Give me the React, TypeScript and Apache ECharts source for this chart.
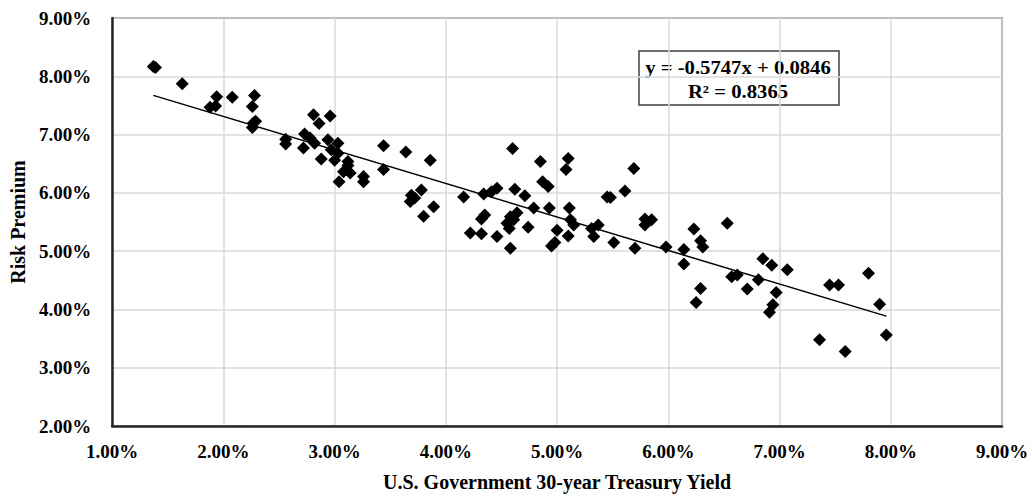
import React, { useEffect, useRef } from "react";
import * as echarts from "echarts";

// U.S. Government 30-year Treasury Yield (%)
const treasuryYield: number[] = [
  1.37, 1.39, 1.63, 1.94, 2.08, 1.88, 1.93, 2.28, 2.26, 2.27, 2.26, 2.29,
  2.56, 2.56, 2.72, 2.73, 2.81, 2.86, 2.96, 2.78, 2.82, 2.88, 2.94, 3.03,
  2.97, 3.0, 3.03, 3.12, 3.08, 3.14, 3.04, 3.12, 3.26, 3.26, 3.44, 3.64,
  3.86, 3.44, 3.78, 3.69, 3.72, 3.68, 3.89, 3.8, 4.16, 4.22, 4.6, 4.85,
  5.1, 5.08, 4.87, 4.92, 4.34, 4.41, 4.46, 4.62, 4.71, 4.79, 4.93, 5.11,
  5.45, 5.48, 5.61, 5.69, 4.35, 4.32, 4.58, 4.64, 4.55, 4.61, 4.57, 4.74,
  4.32, 4.46, 4.58, 5.0, 5.12, 5.15, 5.1, 4.95, 4.98, 5.31, 5.37, 5.33,
  5.51, 5.79, 5.85, 5.79, 5.7, 5.98, 6.14, 6.14, 6.23, 6.29, 6.31, 6.53,
  6.29, 6.25, 6.57, 6.62, 6.71, 6.81, 6.85, 6.93, 7.07, 6.97, 6.94, 6.91,
  7.45, 7.53, 7.8, 7.9, 7.36, 7.59, 7.96,
];

// Risk Premium (%)
const riskPremium: number[] = [
  8.17, 8.15, 7.87, 7.65, 7.64, 7.47, 7.49, 7.67, 7.48, 7.2, 7.12, 7.23,
  6.92, 6.84, 6.77, 7.01, 7.34, 7.19, 7.32, 6.94, 6.85, 6.58, 6.91, 6.85,
  6.74, 6.56, 6.68, 6.54, 6.36, 6.34, 6.19, 6.47, 6.28, 6.19, 6.81, 6.7,
  6.56, 6.4, 6.05, 5.96, 5.91, 5.85, 5.76, 5.6, 5.93, 5.31, 6.76, 6.54,
  6.59, 6.4, 6.19, 6.11, 5.98, 6.02, 6.08, 6.06, 5.95, 5.74, 5.74, 5.74,
  5.93, 5.92, 6.03, 6.42, 5.62, 5.55, 5.59, 5.66, 5.48, 5.54, 5.39, 5.41,
  5.3, 5.25, 5.05, 5.36, 5.54, 5.45, 5.26, 5.09, 5.15, 5.39, 5.45, 5.25,
  5.15, 5.55, 5.54, 5.45, 5.05, 5.07, 5.03, 4.78, 5.38, 5.18, 5.07, 5.48,
  4.36, 4.12, 4.56, 4.59, 4.35, 4.51, 4.87, 4.76, 4.68, 4.29, 4.08, 3.95,
  4.42, 4.42, 4.62, 4.09, 3.48, 3.28, 3.56,
];

// Linear trendline coefficients (fractions)
const slope = -0.5747;
const intercept = 0.0846;
const rSquared = 0.8365;

const xTicks = { min: 1, max: 9, interval: 1 };
const yTicks = { min: 2, max: 9, interval: 1 };

const FONT = '"Liberation Serif", "Times New Roman", serif';

export default function App() {
  const ref = useRef<HTMLDivElement>(null);

  useEffect(() => {
    if (!ref.current) return;
    const chart = echarts.init(ref.current, undefined, { renderer: "svg" });

    const points = treasuryYield.map((x, i) => [x, riskPremium[i]]);
    const xMin = Math.min(...treasuryYield);
    const xMax = Math.max(...treasuryYield);
    const trend = [xMin, xMax].map((x) => [x, (slope * (x / 100) + intercept) * 100]);

    const fmt = (v: number) => v.toFixed(2) + "%";
    const eq1 = `y = ${slope.toFixed(4)}x + ${intercept.toFixed(4)}`;
    const eq2 = `R² = ${rSquared.toFixed(4)}`;

    chart.setOption({
      animation: false,
      backgroundColor: "#ffffff",
      grid: {
        left: 112,
        right: 30,
        top: 18,
        bottom: 71,
        show: true,
        borderColor: "#404040",
        borderWidth: 1.5,
        backgroundColor: "transparent",
      },
      xAxis: {
        type: "value",
        min: xTicks.min,
        max: xTicks.max,
        interval: xTicks.interval,
        name: "U.S. Government 30-year Treasury Yield",
        nameLocation: "middle",
        nameGap: 46,
        nameTextStyle: { fontFamily: FONT, fontWeight: "bold", fontSize: 20, color: "#000" },
        axisLine: { show: true, onZero: false, lineStyle: { color: "#262626", width: 2.5 } },
        axisTick: { show: false },
        axisLabel: {
          formatter: fmt,
          fontFamily: FONT,
          fontWeight: "bold",
          fontSize: 19,
          color: "#000",
          margin: 16,
        },
        splitLine: { show: true, lineStyle: { color: "#d9d9d9", width: 1.5 } },
      },
      yAxis: {
        type: "value",
        min: yTicks.min,
        max: yTicks.max,
        interval: yTicks.interval,
        name: "Risk Premium",
        nameLocation: "middle",
        nameGap: 84,
        nameTextStyle: { fontFamily: FONT, fontWeight: "bold", fontSize: 20, color: "#000" },
        axisLine: { show: true, onZero: false, lineStyle: { color: "#262626", width: 2.5 } },
        axisTick: { show: false },
        axisLabel: {
          formatter: fmt,
          fontFamily: FONT,
          fontWeight: "bold",
          fontSize: 19,
          color: "#000",
          margin: 21,
        },
        splitLine: { show: true, lineStyle: { color: "#d9d9d9", width: 1.5 } },
      },
      series: [
        {
          type: "scatter",
          data: points,
          symbol: "diamond",
          symbolSize: 13,
          itemStyle: { color: "#000000", opacity: 1 },
          z: 2,
        },
        {
          type: "line",
          data: trend,
          showSymbol: false,
          symbol: "none",
          lineStyle: { color: "#000000", width: 1.5 },
          z: 3,
        },
      ],
      graphic: [
        {
          type: "group",
          z: 10,
          children: [
            {
              type: "rect",
              shape: { x: 639, y: 51, width: 200, height: 54 },
              style: { fill: "#ffffff", stroke: "#404040", lineWidth: 1.5 },
            },
            {
              type: "text",
              x: 738,
              y: 68,
              scaleX: 1.15,
              style: {
                text: eq1,
                fill: "#000",
                font: `bold 18px ${FONT}`,
                align: "center",
                verticalAlign: "middle",
              },
            },
            {
              type: "text",
              x: 738,
              y: 92,
              scaleX: 1.15,
              style: {
                text: eq2,
                fill: "#000",
                font: `bold 18px ${FONT}`,
                align: "center",
                verticalAlign: "middle",
              },
            },
          ],
        },
      ],
    });

    return () => chart.dispose();
  }, []);

  return (
    <div
      ref={ref}
      style={{ position: "fixed", left: 0, top: 0, width: 1032, height: 497 }}
    />
  );
}
